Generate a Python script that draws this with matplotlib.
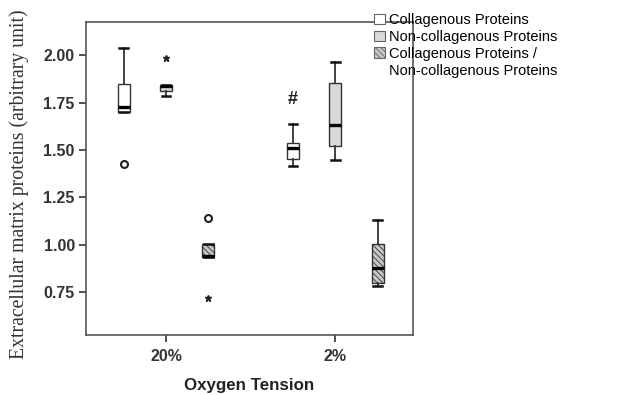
import numpy as np
import matplotlib.pyplot as plt
from matplotlib.patches import Patch

plt.rcParams['hatch.linewidth'] = 0.6

groups = ['20%', '2%']
series = ['Collagenous Proteins', 'Non-collagenous Proteins',
          'Collagenous Proteins /\nNon-collagenous Proteins']

# five-number summaries per series, one tuple per group: (low, q1, median, q3, high)
coll_stats = [(1.700, 1.700, 1.726, 1.850, 2.037),
              (1.418, 1.453, 1.511, 1.538, 1.638)]
noncoll_stats = [(1.785, 1.810, 1.836, 1.843, 1.843),
                 (1.446, 1.520, 1.631, 1.852, 1.965)]
ratio_stats = [(0.933, 0.933, 0.942, 1.005, 1.005),
               (0.780, 0.800, 0.876, 1.003, 1.129)]

# outliers: (group index, series index, value)
circle_outliers = [(0, 0, 1.426), (0, 2, 1.141)]
star_outliers = [(0, 1, 1.984), (0, 2, 0.717)]

# significance mark
mark_text = '#'
mark_pos = (1, 0, 1.765)

fills = ['white', '#d8d8d8', '#c8c8c8']
hatches = [None, None, '\\\\\\\\\\\\']
offsets = [-0.25, 0.0, 0.25]
edge = '#333333'

fig = plt.figure(figsize=(6.44, 3.95), dpi=100)
ax = fig.add_axes([0.1335, 0.152, 0.508, 0.793])

all_stats = [coll_stats, noncoll_stats, ratio_stats]
for s, stats in enumerate(all_stats):
    bxp_stats = []
    positions = []
    for g, (lo, q1, med, q3, hi) in enumerate(stats):
        bxp_stats.append(dict(whislo=lo, q1=q1, med=med, q3=q3, whishi=hi))
        positions.append(g + 1 + offsets[s])
    bp = ax.bxp(bxp_stats, positions=positions, widths=0.07, patch_artist=True,
                showfliers=False, capwidths=0.05,
                boxprops=dict(edgecolor=edge, linewidth=1.0),
                whiskerprops=dict(color=edge, linewidth=1.3),
                capprops=dict(color='#111111', linewidth=1.8),
                medianprops=dict(color='black', linewidth=2.4))
    for b in bp['boxes']:
        b.set_facecolor(fills[s])
        if hatches[s]:
            b.set_hatch(hatches[s])

for g, s, v in circle_outliers:
    ax.plot(g + 1 + offsets[s], v, 'o', ms=5, mfc='white', mec='#222222', mew=1.5)
for g, s, v in star_outliers:
    ax.plot(g + 1 + offsets[s], v, '*', ms=5, color='#222222')

g, s, v = mark_pos
ax.text(g + 1 + offsets[s], v, mark_text, ha='center', va='center',
        fontsize=13, fontweight='bold', fontfamily='Liberation Sans',
        color='#222222')

ax.set_xlim(0.527, 2.46)
ax.set_ylim(0.524, 2.177)
ax.set_xticks([1, 2])
ax.set_xticklabels(groups)
ax.set_yticks([0.75, 1.0, 1.25, 1.5, 1.75, 2.0])
ax.set_yticklabels(['0.75', '1.00', '1.25', '1.50', '1.75', '2.00'])
for lab in ax.get_xticklabels() + ax.get_yticklabels():
    lab.set_fontfamily('Liberation Sans')
    lab.set_fontweight('bold')
    lab.set_fontsize(11.5)
    lab.set_color('#333333')
ax.tick_params(length=5, width=1.2, color='#333333', pad=3)
ax.tick_params(axis='x', pad=5)
for sp in ax.spines.values():
    sp.set_color('#555555')
    sp.set_linewidth(1.2)

ax.set_xlabel('Oxygen Tension', fontfamily='Liberation Sans', fontweight='bold',
              fontsize=12.2, color='#222222', labelpad=10)
fig.text(0.03, 0.534, 'Extracellular matrix proteins (arbitrary unit)',
         rotation=90, ha='center', va='center', fontfamily='Liberation Serif',
         fontsize=14.2, color='#333333')

# legend: the ratio label wraps, so its second line gets an empty handle
labels = series[:2] + series[2].split('\n')
handles = [Patch(facecolor=fills[i], edgecolor='#666666', hatch=hatches[i], lw=0.8)
           for i in range(3)]
handles.append(Patch(facecolor='none', edgecolor='none'))
fig.legend(handles, labels, loc='upper left', bbox_to_anchor=(0.581, 0.967),
           frameon=False, prop=dict(family='Liberation Sans', size=10.5),
           borderpad=0, borderaxespad=0,
           handlelength=0.75, handleheight=0.75, handletextpad=0.3,
           labelspacing=0.2)

fig.savefig('out.png', dpi=100)
